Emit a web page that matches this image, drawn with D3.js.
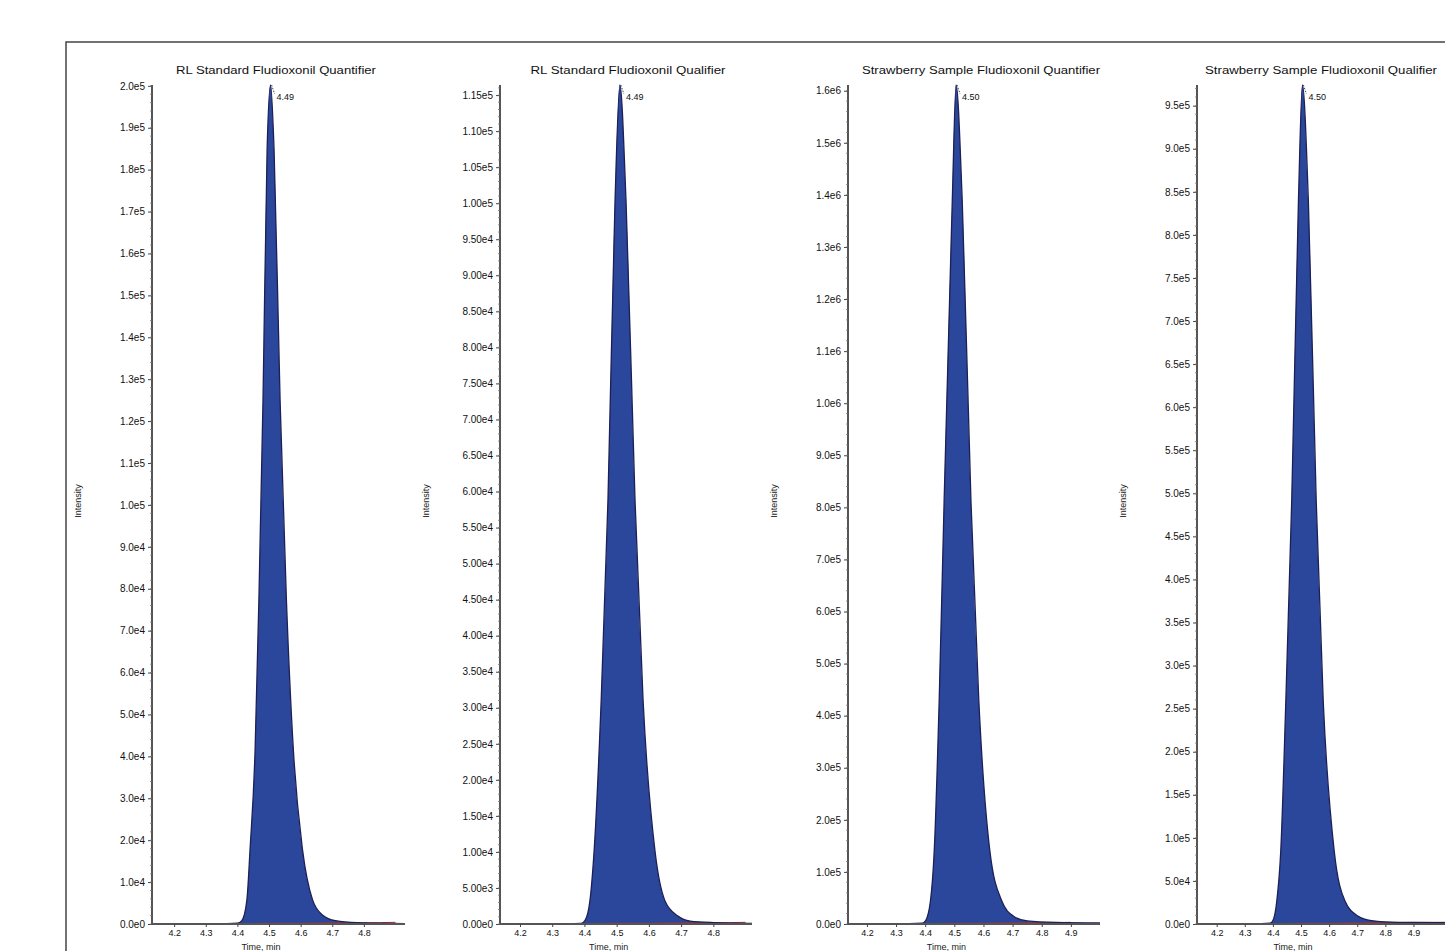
<!DOCTYPE html>
<html>
<head>
<meta charset="utf-8">
<script src="https://cdn.jsdelivr.net/npm/d3@7"></script>
<style>
  body { margin: 0; background: #fff; }
  svg { display: block; font-family: "Liberation Sans", Arial, sans-serif; }
</style>
</head>
<body>
<svg id="chart" width="1445" height="951"></svg>
<script>
// panel titles and labels
const titles = [
    "RL Standard Fludioxonil Quantifier",
    "RL Standard Fludioxonil Qualifier",
    "Strawberry Sample Fludioxonil Quantifier",
    "Strawberry Sample Fludioxonil Qualifier"
];
const peakLabels = ["4.49", "4.49", "4.50", "4.50"];
const xTicks = [4.2, 4.3, 4.4, 4.5, 4.6, 4.7, 4.8, 4.9];
const xTickLast = [4.8, 4.8, 4.9, 4.9];
const yTickTop = [2.0e5, 1.15e5, 1.6e6, 9.5e5];
const yTickStep = [1e4, 5e3, 1e5, 5e4];
const yTickFormat = [".1e", ".2e", ".1e", ".1e"];
const xDomains = [[4.13, 4.93], [4.138, 4.92], [4.135, 5.0], [4.13, 5.03]];
const yMax = [2.002e5, 1.164e5, 1.611e6, 9.74e5];

// chromatograms (retention time, intensity)
const rt1  = [4.13, 4.30, 4.40, 4.414, 4.43, 4.44, 4.456, 4.468, 4.481, 4.494, 4.505, 4.516, 4.535, 4.555, 4.577, 4.606, 4.638, 4.67, 4.71, 4.78, 4.93];
const int1 = [0, 0, 200, 800, 5700, 17700, 41500, 77300, 125000, 184700, 200200, 184700, 125000, 77300, 41500, 17700, 5700, 2100, 800, 300, 100];

const rt2  = [4.138, 4.30, 4.39, 4.402, 4.417, 4.43, 4.452, 4.473, 4.495, 4.51, 4.529, 4.557, 4.582, 4.619, 4.65, 4.69, 4.728, 4.80, 4.92];
const int2 = [0, 0, 100, 500, 3200, 10100, 31000, 58750, 100400, 116400, 100400, 58750, 31000, 10100, 3200, 1100, 400, 200, 100];

const rt3  = [4.135, 4.30, 4.39, 4.401, 4.418, 4.431, 4.448, 4.465, 4.493, 4.506, 4.527, 4.557, 4.584, 4.622, 4.663, 4.703, 4.75, 4.85, 5.0];
const int3 = [0, 0, 1500, 6000, 44000, 140000, 429000, 813000, 1390000, 1611000, 1390000, 813000, 429000, 140000, 44000, 15000, 6000, 3000, 2000];

const rt4  = [4.13, 4.30, 4.39, 4.40, 4.414, 4.428, 4.446, 4.467, 4.491, 4.505, 4.526, 4.554, 4.579, 4.618, 4.656, 4.702, 4.75, 4.85, 5.03];
const int4 = [0, 0, 1000, 4000, 27000, 85000, 259000, 492000, 841000, 974000, 841000, 492000, 259000, 85000, 27000, 9300, 4000, 2000, 1500];

// red baseline trace beneath the peak (fraction of axis max)
const rtBase  = [4.40, 4.50, 4.60, 4.70, 4.80, 4.90, 5.03];
const intBase = [0, 0.001, 0.001, 0.0015, 0.0015, 0.002, 0.002];

const series = [[rt1, int1], [rt2, int2], [rt3, int3], [rt4, int4]];

const svg = d3.select('#chart');

// outer frame
svg.append('rect')
    .attr('x', 66).attr('y', 42)
    .attr('width', 1420).attr('height', 940)
    .attr('fill', 'none')
    .attr('stroke', '#444')
    .attr('stroke-width', 1.5);

const lefts = [152, 500, 848, 1197];
const rights = [405, 752, 1100, 1450];
const titleCenters = [276, 628, 981, 1321];
const titleWidths = [200, 195, 238, 232];
const plotTop = 85, plotBottom = 924;

titles.forEach(function(title, i) {
    const x = d3.scaleLinear().domain(xDomains[i]).range([lefts[i], rights[i]]);
    const y = d3.scaleLinear().domain([0, yMax[i]]).range([plotBottom, plotTop]);
    const g = svg.append('g');
    const fmt = d3.format(yTickFormat[i]);
    const yTicks = d3.range(0, yTickTop[i] + yTickStep[i] / 2, yTickStep[i]);
    const yMinor = d3.range(0, yMax[i], yTickStep[i] / 5);

    // title
    g.append('text')
        .attr('x', titleCenters[i] - titleWidths[i] / 2)
        .attr('y', 74)
        .attr('textLength', titleWidths[i])
        .attr('lengthAdjust', 'spacingAndGlyphs')
        .style('font-size', '10px')
        .style('fill', '#111')
        .text(title);

    // Intensity label
    g.append('text')
        .attr('transform', `translate(${lefts[i] - 71},${501}) rotate(-90)`)
        .attr('text-anchor', 'middle')
        .style('font-size', '9px')
        .style('fill', '#222')
        .text('Intensity');

    // x axis label, cut by the picture edge
    g.append('text')
        .attr('x', x(4.5) - 8)
        .attr('y', 950)
        .attr('text-anchor', 'middle')
        .style('font-size', '9px')
        .style('fill', '#222')
        .text('Time, min');

    // peak fill + outline
    const pts = series[i][0].map((t, k) => [t, series[i][1][k]]);
    const area = d3.area().curve(d3.curveMonotoneX).x(d => x(d[0])).y0(y(0)).y1(d => y(d[1]));
    const line = d3.line().curve(d3.curveMonotoneX).x(d => x(d[0])).y(d => y(d[1]));

    g.append('path')
        .attr('d', area(pts))
        .attr('fill', '#2b479c');

    const base = rtBase.map((t, k) => [t, intBase[k] * yMax[i]]).filter(d => d[0] <= xDomains[i][1]);
    g.append('path')
        .attr('d', line(base))
        .attr('fill', 'none')
        .attr('stroke', '#b0283a')
        .attr('stroke-width', 1);

    g.append('path')
        .attr('d', line(pts))
        .attr('fill', 'none')
        .attr('stroke', '#1d1f55')
        .attr('stroke-width', 1.3);

    // y axis
    const yAxis = d3.axisLeft(y).tickValues(yTicks).tickSize(4).tickFormat(d => fmt(d).replace('e+', 'e'));
    const ya = g.append('g').attr('transform', `translate(${lefts[i]},0)`).call(yAxis);
    ya.selectAll('.tick line').attr('stroke', '#444');
    ya.select('.domain').attr('stroke', '#555').attr('stroke-width', 2).attr('d', `M0,${plotTop}V${plotBottom}`);
    ya.selectAll('text').style('font-size', '10px').style('fill', '#111').attr('x', -7);
    g.selectAll('.minor').data(yMinor).enter().append('line')
        .attr('x1', lefts[i] - 2).attr('x2', lefts[i])
        .attr('y1', d => y(d)).attr('y2', d => y(d))
        .attr('stroke', '#777').attr('stroke-width', 0.8);

    // x axis
    const xAxis = d3.axisBottom(x).tickValues(xTicks.filter(t => t <= xTickLast[i] + 0.01)).tickSize(3).tickFormat(d3.format('.1f'));
    const xa = g.append('g').attr('transform', `translate(0,${plotBottom})`).call(xAxis);
    xa.selectAll('.tick line').attr('stroke', '#444');
    xa.select('.domain').attr('stroke', '#555').attr('stroke-width', 2).attr('d', `M${lefts[i]},0H${rights[i]}`);
    xa.selectAll('text').style('font-size', '9px').style('fill', '#111').attr('y', 6);

    // peak marker
    const peakIdx = d3.maxIndex(series[i][1]);
    const px = x(series[i][0][peakIdx]), py = y(series[i][1][peakIdx]);
    g.append('line')
        .attr('x1', px + 1).attr('y1', py)
        .attr('x2', px + 4).attr('y2', py + 9)
        .attr('stroke', '#444')
        .attr('stroke-dasharray', '1.5,1.5');
    g.append('text')
        .attr('x', px + 6)
        .attr('y', py + 15)
        .style('font-size', '9px')
        .style('fill', '#111')
        .text(peakLabels[i]);
});
</script>
</body>
</html>
